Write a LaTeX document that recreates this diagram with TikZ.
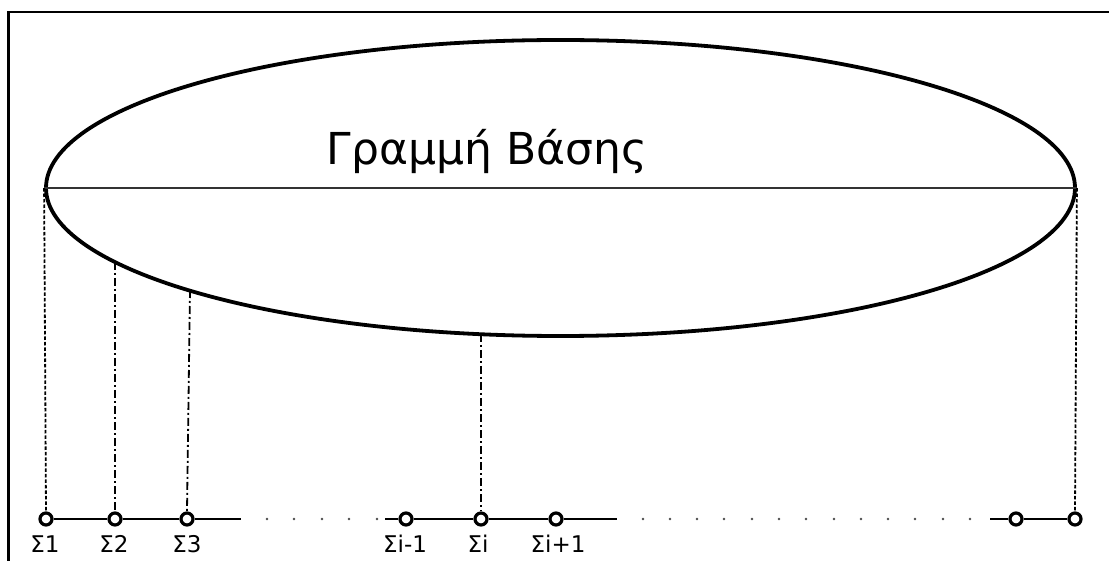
\documentclass[tikz,border=0pt]{standalone}
\usepackage{fontspec}
\setmainfont{DejaVu Sans}
\usetikzlibrary{shapes.geometric}
\begin{document}
\begin{tikzpicture}[x=1pt,y=-1pt,
  frame/.style={line width=2.5pt},
  station/.style={circle,draw,fill=white,line width=3.2pt,minimum size=12pt,inner sep=0pt},
  axisline/.style={line width=2.2pt},
  proj/.style={line width=1.8pt,dash pattern=on 8pt off 3pt on 2pt off 3pt},
  projdash/.style={line width=1.8pt,dash pattern=on 3.5pt off 2pt},
  lab/.style={font=\fontsize{23}{27}\selectfont,anchor=base},
  ddot/.style={circle,fill=black!70,inner sep=0pt,minimum size=2.6pt}]
\useasboundingbox (0,0) rectangle (1109,561);
\fill[white] (0,0) rectangle (1109,561);
% frame (top and left edges)
\coordinate (ftl) at (8.5,12);
\coordinate (ftr) at (1109,12);
\coordinate (fbl) at (8.5,561);
\draw[frame] (ftr) -- (ftl) -- (fbl);
% ellipse
\node[ellipse,draw,line width=3.8pt,minimum width=1029pt,minimum height=296pt,inner sep=0pt] (ell) at (560.5,188) {};
\draw[line width=1.8pt,black!80] (ell.west) -- (ell.east);
\node[font=\fontsize{44}{50}\selectfont,anchor=base] (title) at (487,165) {Γραμμή Βάσης};
% stations
\node[station] (s1) at (46,519) {};
\node[station] (s2) at (115,519) {};
\node[station] (s3) at (187,519) {};
\node[station] (s4) at (406,519) {};
\node[station] (s5) at (481,519) {};
\node[station] (s6) at (556,519) {};
\node[station] (s7) at (1016,519) {};
\node[station] (s8) at (1075,519) {};
\coordinate (e1) at (241,519);
\coordinate (b2) at (385,519);
\coordinate (e2) at (617,519);
\coordinate (b3) at (990,519);
% projection points on ellipse
\coordinate (p2) at (115,262);
\coordinate (p3) at (190,290);
\coordinate (p5) at (481,334);
% axis segments
\draw[axisline] (s1) -- (s2) -- (s3) -- (e1);
\draw[axisline] (b2) -- (s4) -- (s5) -- (s6) -- (e2);
\draw[axisline] (b3) -- (s7) -- (s8);
% projections
\draw[projdash] (ell.west) -- (s1.north);
\draw[proj] (p2) -- (s2.north);
\draw[proj] (p3) -- (s3.north);
\draw[proj] (p5) -- (s5.north);
\draw[projdash] (ell.east) -- (s8.north);
% dots
\foreach \x [count=\i] in {267,294,322,349,377}
  \node[ddot] (da\i) at (\x,519) {};
\foreach \x [count=\i] in {643,670,697,724,752,779,806,834,861,888,915,943,970}
  \node[ddot] (db\i) at (\x,519) {};
% labels
\node[lab] (l1) at (45,552) {Σ1};
\node[lab] (l2) at (114,552) {Σ2};
\node[lab] (l3) at (187,552) {Σ3};
\node[lab] (l4) at (405,552) {Σi-1};
\node[lab] (l5) at (478,552) {Σi};
\node[lab] (l6) at (558,552) {Σi+1};
\end{tikzpicture}
\end{document}
